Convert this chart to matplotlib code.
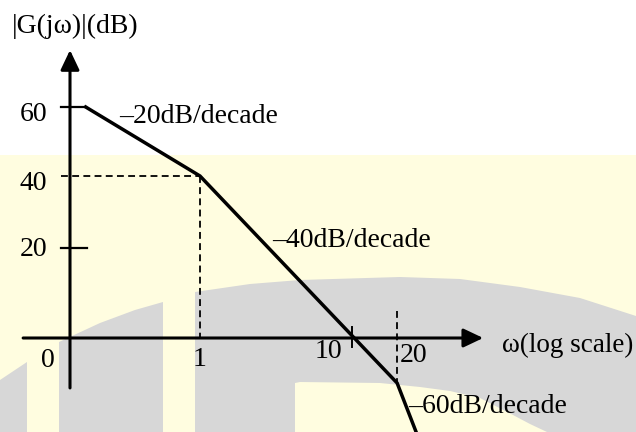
import numpy as np
import matplotlib
matplotlib.use('Agg')
import matplotlib.pyplot as plt
from matplotlib.patches import Polygon, Rectangle

# asymptotic Bode magnitude sketch, corners at 1 and 20 rad/s
omega = [0.176, 1, 20, 27.5]
mag_db = [60, 40, -10, -22]

y_ticks = [60, 40, 20]
y_tick_labels = ['60', '40', '20']
x_tick_labels = ['0', '1', '10', '20']
slope_labels = ['\u201320dB/decade', '\u201340dB/decade', '\u201360dB/decade']

W, H = 636, 432
DECADE = 151.5          # pixels per decade on the sketch


def px(x, y):
    # pixel (from top-left) -> figure fraction, used only for the backdrop
    return (x / W, 1 - y / H)


def dbForward(v):
    # the sketch spaces its dB ticks unevenly, so map them piecewise
    return np.interp(v, [-100, 0, 20, 40, 60, 160], [-450, 0, 90, 162, 231, 576])


def dbInverse(v):
    return np.interp(v, [-450, 0, 90, 162, 231, 576], [-100, 0, 20, 40, 60, 160])


fig = plt.figure(figsize=(W / 100, H / 100), dpi=100)
ax = fig.add_axes([0, 0, 1, 1])
ax.set_xscale('log')
ax.set_yscale('function', functions=(dbForward, dbInverse))
ax.set_xlim(10 ** (-200 / DECADE), 10 ** (436 / DECADE))
ax.set_ylim(dbInverse(-94), dbInverse(338))
ax.axis('off')

# watermark backdrop
yellow = '#FFFDE0'
grey = '#D7D7D7'
ax.add_patch(Rectangle(px(0, 432), 1, 1 - 155 / H, transform=ax.transAxes,
                       color=yellow, zorder=0, lw=0))
shapeA = [px(0, 432), px(0, 380), px(27, 362), px(27, 432)]
shapeB = [px(59, 432), px(59, 342), px(100, 323), px(135, 310), px(163, 302), px(163, 432)]
shapeC = [px(195, 432), px(195, 292), px(250, 284), px(300, 280), px(400, 277), px(460, 279),
          px(520, 287), px(580, 298), px(636, 316), px(636, 432), px(547, 432),
          px(530, 424), px(513, 415), px(480, 398), px(450, 391), px(420, 387),
          px(380, 383), px(300, 382), px(295, 383), px(295, 432)]
for s in [shapeA, shapeB, shapeC]:
    ax.add_patch(Polygon(s, closed=True, transform=ax.transAxes, color=grey, lw=0, zorder=0))

# axes with arrow heads
yAxisW = 10 ** (-130 / DECADE)
arrow = dict(arrowstyle='-|>,head_length=0.8,head_width=0.38', color='black', lw=2.2,
             shrinkA=0, shrinkB=0, mutation_scale=15)
ax.annotate('', xy=(yAxisW, 76.5), xytext=(yAxisW, -11.1), arrowprops=arrow, zorder=3)
ax.annotate('', xy=(74, 0), xytext=(0.068, 0), arrowprops=arrow, zorder=3)

# tick marks and guide lines
tickL = 0.121
ax.plot([tickL, omega[0]], [y_ticks[0], y_ticks[0]], color='black', lw=1.6, zorder=3)
ax.plot([tickL, 0.18], [y_ticks[2], y_ticks[2]], color='black', lw=1.6, zorder=3)
ax.plot([10, 10], [2.5, -2.0], color='black', lw=1.4, zorder=3)
dash = dict(color='black', lw=1.3, dashes=(3.8, 2.4), zorder=2)
ax.plot([tickL, omega[1]], [y_ticks[1], y_ticks[1]], **dash)
ax.plot([omega[1], omega[1]], [y_ticks[1], 0], **dash)
ax.plot([omega[2], omega[2]], [6, mag_db[2]], **dash)

# the asymptotes
ax.plot(omega, mag_db, color='black', lw=2.5, solid_joinstyle='miter', zorder=4)

font = dict(family='Liberation Serif', size=20, color='black')
for lab, v, yb in zip(y_tick_labels, y_ticks, [121, 190, 256]):
    ax.text(10 ** (-153 / DECADE), dbInverse(338 - yb), lab, ha='right', va='baseline', **font)

ax.text(10 ** (-145 / DECADE), dbInverse(338 - 367), x_tick_labels[0], ha='right', va='baseline', **font)
ax.text(1, dbInverse(338 - 366), x_tick_labels[1], ha='center', va='baseline', **font)
ax.text(10 ** (142 / DECADE), dbInverse(338 - 358), x_tick_labels[2], ha='right', va='baseline', **font)
ax.text(10 ** (200 / DECADE), dbInverse(338 - 362), x_tick_labels[3], ha='left', va='baseline', **font)

ax.text(10 ** (-81 / DECADE), dbInverse(338 - 123), slope_labels[0], ha='left', va='baseline', **font)
ax.text(10 ** (72 / DECADE), dbInverse(338 - 247), slope_labels[1], ha='left', va='baseline', **font)
ax.text(10 ** (208 / DECADE), dbInverse(338 - 413), slope_labels[2], ha='left', va='baseline', **font)
ax.text(10 ** (302 / DECADE), dbInverse(338 - 352), '\u03c9(log scale)', ha='left', va='baseline',
        family='Liberation Serif', size=19.5, color='black')

ax.text(10 ** (-188 / DECADE), dbInverse(338 - 33), '|G(j\u03c9)|(dB)', ha='left', va='baseline',
        family='Liberation Serif', size=20, color='black')

fig.savefig('out.png', dpi=100)
